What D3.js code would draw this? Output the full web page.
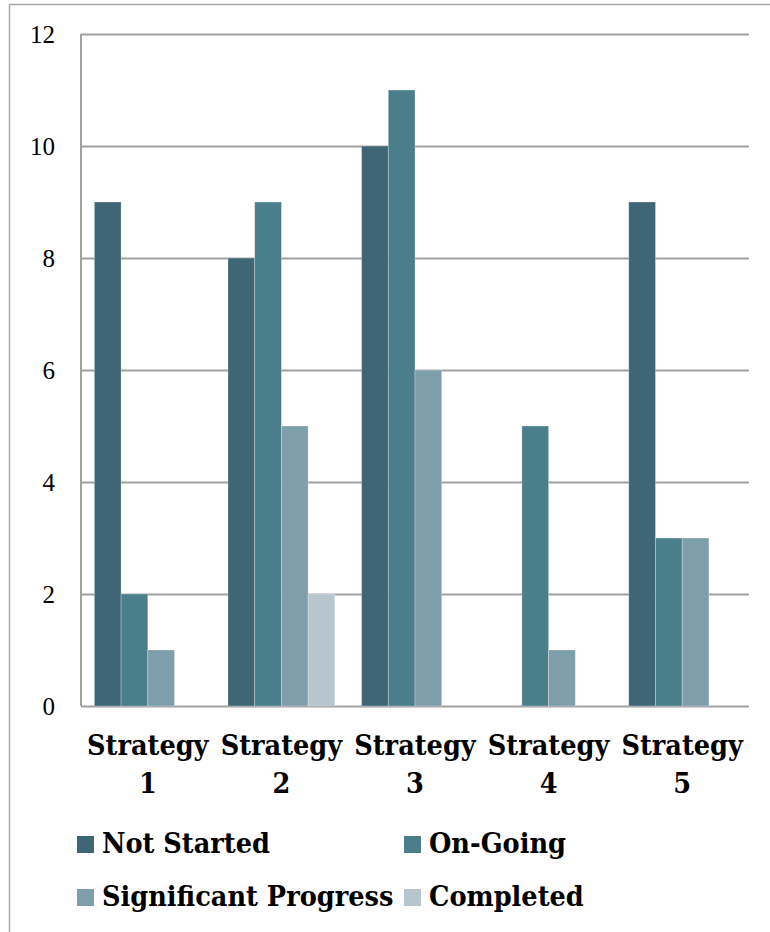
<!DOCTYPE html>
<html>
<head>
<meta charset="utf-8">
<script src="https://cdn.jsdelivr.net/npm/d3@7"></script>
<style>
  body { margin: 0; background: #fff; }
  text { font-family: "DejaVu Serif Condensed", "DejaVu Serif", serif; font-stretch: condensed; }
</style>
</head>
<body>
<div id="chart"></div>
<script>
const categories = ['Strategy 1', 'Strategy 2', 'Strategy 3', 'Strategy 4', 'Strategy 5']
const seriesNames = ['Not Started', 'On-Going', 'Significant Progress', 'Completed']
const notStarted = [9, 8, 10, 0, 9]
const onGoing = [2, 9, 11, 5, 3]
const significantProgress = [1, 5, 6, 1, 3]
const completed = [0, 2, 0, 0, 0]
const yTicks = [0, 2, 4, 6, 8, 10, 12]
const colors = ['#3e6674', '#4a7e8a', '#7f9eab', '#b7c6ce']

const seriesValues = [notStarted, onGoing, significantProgress, completed]

const dimensions = {
  width: 770,
  height: 932,
  margin: { top: 34, bottom: 226, left: 81, right: 21 }
}
dimensions.containerWidth = dimensions.width - dimensions.margin.left - dimensions.margin.right
dimensions.containerHeight = dimensions.height - dimensions.margin.top - dimensions.margin.bottom

const svg = d3.select('#chart')
  .append('svg')
  .attr('width', dimensions.width)
  .attr('height', dimensions.height)

// outer frame
svg.append('rect')
  .attr('x', 9.5).attr('y', 4.5)
  .attr('width', 780).attr('height', 950)
  .attr('fill', 'none')
  .attr('stroke', '#a6a6a6')
  .attr('stroke-width', 1.5)

const container = svg.append('g')
  .attr('transform', `translate(${dimensions.margin.left}, ${dimensions.margin.top})`)

const xScale = d3.scaleBand()
  .domain(categories)
  .range([0, dimensions.containerWidth])
  .paddingInner(0.2)
  .paddingOuter(0.1)

const x1 = d3.scaleBand()
  .domain(seriesNames)
  .range([0, xScale.bandwidth()])

const yScale = d3.scaleLinear()
  .domain([0, 12])
  .range([dimensions.containerHeight, 0])

// gridlines
const yAxis = d3.axisLeft(yScale)
  .tickValues(yTicks)
  .tickSize(-dimensions.containerWidth)
  .tickPadding(26)

const yAxisGroup = container.append('g').call(yAxis)
yAxisGroup.select('.domain').remove()
yAxisGroup.selectAll('.tick line')
  .attr('stroke', '#a0a0a0')
  .attr('stroke-width', 2)
yAxisGroup.selectAll('.tick text')
  .style('font-family', '"Liberation Serif", "DejaVu Serif", serif')
  .style('font-size', '25px')
  .style('font-stretch', 'normal')
  .attr('fill', '#000')

// left axis line
container.append('line')
  .attr('x1', 0).attr('x2', 0)
  .attr('y1', 0).attr('y2', dimensions.containerHeight)
  .attr('stroke', '#a0a0a0')
  .attr('stroke-width', 2)

// bars
const groups = container.append('g')
  .selectAll('g')
  .data(categories)
  .join('g')
  .attr('transform', d => `translate(${xScale(d)},0)`)

groups.selectAll('rect')
  .data((d, ci) => seriesNames.map((s, si) => ({ series: s, si, value: seriesValues[si][ci] })))
  .join('rect')
  .filter(d => d.value > 0)
  .attr('x', d => x1(d.series))
  .attr('y', d => yScale(d.value))
  .attr('width', x1.bandwidth())
  .attr('height', d => dimensions.containerHeight - yScale(d.value))
  .attr('fill', d => colors[d.si])
  .attr('stroke', 'rgba(255,255,255,0.35)')
  .attr('stroke-width', 0.8)

// x labels
const xLabels = container.append('g')
  .selectAll('text')
  .data(categories)
  .join('text')
  .attr('text-anchor', 'middle')
  .attr('font-weight', 'bold')
  .attr('font-size', 28.5)
  .attr('fill', '#000')

xLabels.each(function (d) {
  const parts = d.split(' ')
  const cx = xScale(d) + xScale.bandwidth() / 2
  d3.select(this).append('tspan').attr('x', cx).attr('y', 755 - dimensions.margin.top).text(parts[0])
  d3.select(this).append('tspan').attr('x', cx).attr('y', 793 - dimensions.margin.top).text(parts[1])
})

// legend
const legendX = [77, 404]
const legendY = [836, 889]
const legend = svg.append('g')
  .selectAll('g')
  .data(seriesNames)
  .join('g')
  .attr('transform', (d, i) => `translate(${legendX[i % 2]},${legendY[Math.floor(i / 2)]})`)

legend.append('rect')
  .attr('width', 17)
  .attr('height', 17)
  .attr('fill', (d, i) => colors[i])

legend.append('text')
  .attr('x', 25)
  .attr('y', 17)
  .attr('font-weight', 'bold')
  .attr('font-size', 28.5)
  .attr('fill', '#000')
  .text(d => d)
</script>
</body>
</html>
